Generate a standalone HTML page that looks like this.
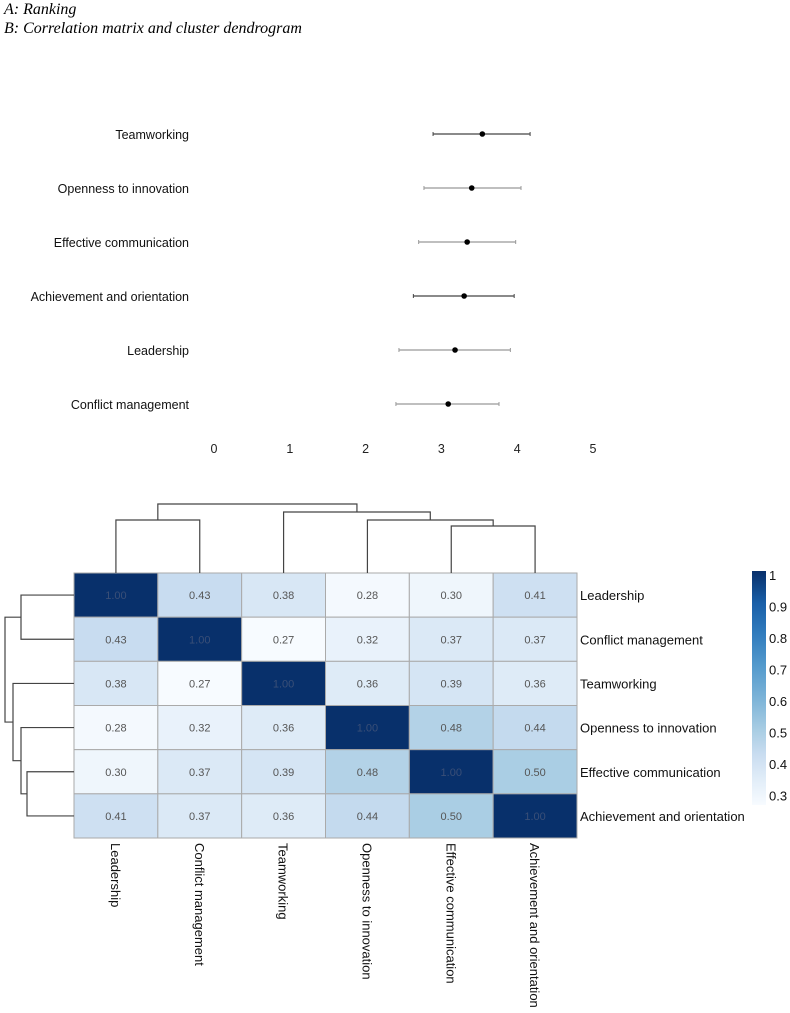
<!DOCTYPE html>
<html><head><meta charset="utf-8"><style>
body{margin:0;background:#fff;width:790px;height:1013px;overflow:hidden}
svg{display:block;font-family:"Liberation Sans",Arial,sans-serif}
</style></head><body>
<svg id="s" width="790" height="1013" viewBox="0 0 790 1013">
<text x="4" y="14" font-family="Liberation Serif" font-style="italic" font-size="16">A: Ranking</text>
<text x="4" y="33" font-family="Liberation Serif" font-style="italic" font-size="16">B: Correlation matrix and cluster dendrogram</text>
<g id="rank"></g>
<g id="heat"></g>
<g id="dend"></g>
<g id="leg"></g>
</svg>
<script>
const rankCats=["Teamworking","Openness to innovation","Effective communication","Achievement and orientation","Leadership","Conflict management"];
const rankMean=[3.54,3.40,3.34,3.30,3.18,3.09];
const rankLow=[2.89,2.77,2.70,2.63,2.44,2.40];
const rankHigh=[4.17,4.05,3.98,3.96,3.91,3.76];
const rankTicks=[0,1,2,3,4,5];
const hmLabels=["Leadership","Conflict management","Teamworking","Openness to innovation","Effective communication","Achievement and orientation"];
const hmValues=[
[1.00,0.43,0.38,0.28,0.30,0.41],
[0.43,1.00,0.27,0.32,0.37,0.37],
[0.38,0.27,1.00,0.36,0.39,0.36],
[0.28,0.32,0.36,1.00,0.48,0.44],
[0.30,0.37,0.39,0.48,1.00,0.50],
[0.41,0.37,0.36,0.44,0.50,1.00]];
const legendTicks=[1,0.9,0.8,0.7,0.6,0.5,0.4,0.3];
// dendrogram merges: [leftIndex/node, rightIndex/node, height]; nodes >=6 refer to earlier merges
const dendMerges=[[4,5,47],[3,6,53],[0,1,53],[2,7,61],[8,9,69]];

const NS="http://www.w3.org/2000/svg";
function mk(p,t,a){const e=document.createElementNS(NS,t);for(const k in a)e.setAttribute(k,a[k]);p.appendChild(e);return e;}
// ranking
const R=document.getElementById('rank');
const xr=v=>214+v*75.8, yr=i=>134+i*54;
rankTicks.forEach(t=>{const e=mk(R,'text',{x:xr(t),y:453,'font-size':12.5,'text-anchor':'middle',fill:'#222'});e.textContent=t;

});
rankCats.forEach((c,i)=>{const y=yr(i);
const t=mk(R,'text',{x:189,y:y+5,'font-size':12.5,'text-anchor':'end',fill:'#111'});t.textContent=c;


const col=i%3==0?'#444':'#999';
const l=mk(R,'line',{x1:xr(rankLow[i]),x2:xr(rankHigh[i]),y1:y,y2:y,stroke:col,'stroke-width':1.3});


[rankLow[i],rankHigh[i]].forEach(v=>mk(R,'line',{x1:xr(v),x2:xr(v),y1:y-2,y2:y+2,stroke:col}));
const d=mk(R,'circle',{cx:xr(rankMean[i]),cy:y,r:2.8,fill:'#000'});

});
// heatmap
const H=document.getElementById('heat');
const X0=74,Y0=573,CW=(577-74)/6,CH=(838-573)/6;
const stops=[[0.27,[247,251,255]],[0.35,[225,237,248]],[0.43,[200,220,240]],[0.5,[170,206,228]],[0.6,[125,180,216]],[0.7,[85,155,205]],[0.8,[50,125,190]],[0.9,[25,95,168]],[1,[8,48,107]]];
function color(v){for(let i=1;i<stops.length;i++){if(v<=stops[i][0]){const a=stops[i-1],b=stops[i],t=Math.max(0,(v-a[0])/(b[0]-a[0]));return 'rgb('+a[1].map((c,k)=>Math.round(c+(b[1][k]-c)*t)).join(',')+')';}}return 'rgb(8,48,107)';}
hmValues.forEach((row,r)=>row.forEach((v,c)=>{
const e=mk(H,'rect',{x:X0+c*CW,y:Y0+r*CH,width:CW,height:CH,fill:color(v),stroke:'#aaa','stroke-width':1});


const t=mk(H,'text',{x:X0+(c+.5)*CW,y:Y0+(r+.5)*CH+4,'font-size':11,'text-anchor':'middle',fill:v>0.9?'#3a4f77':'#555'});t.textContent=v.toFixed(2);

}));
hmLabels.forEach((l,i)=>{
const t=mk(H,'text',{x:580,y:Y0+(i+.5)*CH+5,'font-size':13,fill:'#111'});t.textContent=l;


const cx=X0+(i+.5)*CW;
const u=mk(H,'text',{x:0,y:0,'font-size':13,fill:'#111',transform:`translate(${cx-5},843) rotate(90)`});u.textContent=l;

});
// dendrograms
const D=document.getElementById('dend');
function build(side){const pos={},ht={};for(let i=0;i<6;i++){pos[i]=i+.5;ht[i]=0;}
dendMerges.forEach((m,k)=>{const id=6+k,[a,b,h]=m;
const p=(pos[a]+pos[b])/2;
let pts;
if(side=='top'){const f=v=>X0+v*CW,g=v=>Y0-v;
pts=`${f(pos[a])},${g(ht[a])} ${f(pos[a])},${g(h)} ${f(pos[b])},${g(h)} ${f(pos[b])},${g(ht[b])}`;}
else{const f=v=>Y0+v*CH,g=v=>X0-v;
pts=`${g(ht[a])},${f(pos[a])} ${g(h)},${f(pos[a])} ${g(h)},${f(pos[b])} ${g(ht[b])},${f(pos[b])}`;}
const e=mk(D,'polyline',{points:pts,fill:'none',stroke:'#444','stroke-width':1.2});


pos[id]=p;ht[id]=h;});}
build('top');build('left');
// legend
const L=document.getElementById('leg');
const defs=mk(L,'defs',{});const gr=mk(defs,'linearGradient',{id:'lg',x1:0,y1:1,x2:0,y2:0});
stops.forEach(s=>mk(gr,'stop',{offset:((s[0]-0.27)/0.73*100)+'%','stop-color':color(s[0])}));
const ly=v=>575+(1-v)*315;
mk(L,'rect',{x:752,y:ly(1)-4,width:14,height:ly(0.27)-ly(1)+4,fill:'url(#lg)'});
legendTicks.forEach(t=>{const e=mk(L,'text',{x:769,y:ly(t)+5,'font-size':13,fill:'#111'});e.textContent=t;

});
</script>
</body></html>
